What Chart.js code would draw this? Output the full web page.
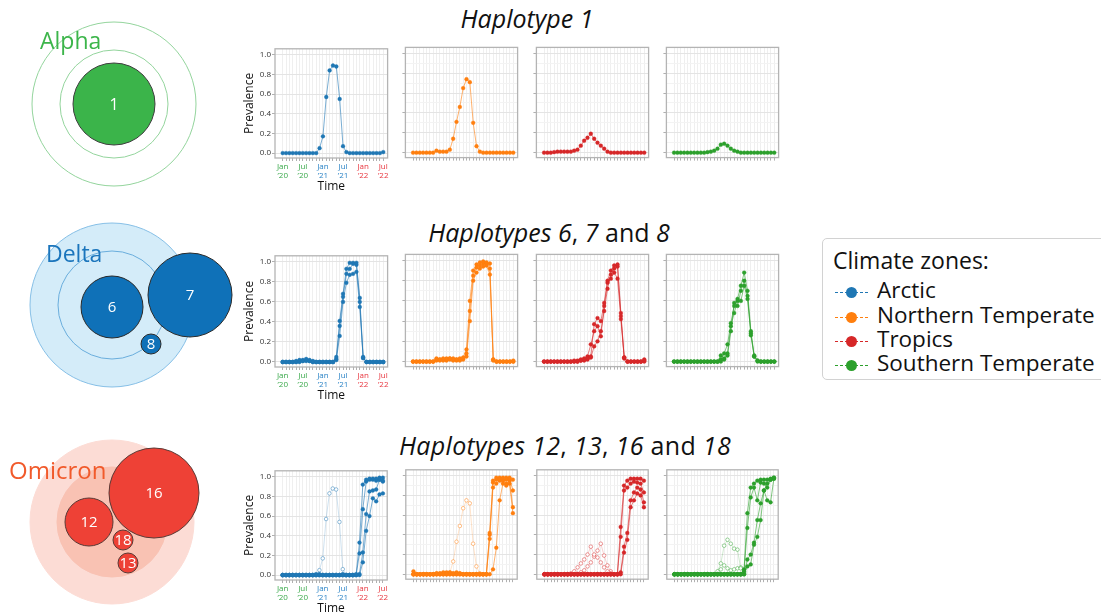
<!DOCTYPE html>
<html><head><meta charset="utf-8">
<script src="https://cdn.jsdelivr.net/npm/chart.js@4.4.0/dist/chart.umd.min.js"></script>
<style>
body{margin:0;width:1101px;height:615px;overflow:hidden;background:#fff;font-family:'Open Sans',sans-serif;position:relative}
.title{position:absolute;font-size:25px;line-height:30px;color:#111;white-space:nowrap;transform:translateX(-50%)}
.title i{font-style:italic}
#legend{position:absolute;left:822px;top:238px;width:300px;height:142px;border:1px solid #d2d2d2;border-radius:5px;box-sizing:border-box}
.lg{position:absolute;left:0;font-size:22.5px;line-height:24px;color:#111;white-space:nowrap}
.mk{position:absolute;height:0;border-top:1px dashed}
.dot{position:absolute;width:11px;height:11px;border-radius:50%}
</style></head><body>
<div class="title" style="left:527px;top:3px"><i>Haplotype 1</i></div>
<div class="title" style="left:549px;top:217px"><i>Haplotypes 6</i>, <i>7</i> and <i>8</i></div>
<div class="title" style="left:565px;top:430px;letter-spacing:0.3px"><i>Haplotypes 12</i>, <i>13</i>, <i>16</i> and <i>18</i></div>
<div id="legend"></div>
<script>
// ---------------- data ----------------
const months = [0,1,2,3,4,5,6,7,8,9,10,11,12,13,14,15,16,17,18,19,20,21,22,23,24,25,26,27,28,29,30]; // Jan 2020 .. Jul 2022
const xTickMonths = [0,6,12,18,24,30];
const xTickText = [["Jan","’20"],["Jul","’20"],["Jan","’21"],["Jul","’21"],["Jan","’22"],["Jul","’22"]];
const xTickColors = ["#3aa94b","#3aa94b","#2c84c6","#2c84c6","#e8363f","#e8363f"];
const yTicks = [0,0.1,0.2,0.3,0.4,0.5,0.6,0.7,0.8,0.9,1.0];
const zoneNames = ["Arctic","Northern Temperate","Tropics","Southern Temperate"];
const zoneColors = ["#1f77b4","#ff7f0e","#d62728","#2ca02c"];

// Alpha (haplotype 1)
const arc1 = [0,0,0,0,0,0,0,0,0,0,0,0.05,0.17,0.57,0.84,0.89,0.88,0.55,0.07,0.01,0,0,0,0,0,0,0,0,0,0,0.01];
const nt1  = [0,0,0,0,0,0,0,0.02,0.01,0.01,0.01,0.03,0.14,0.31,0.46,0.65,0.74,0.71,0.30,0.065,0.01,0,0,0,0,0,0,0,0,0,0];
const tr1  = [0,0,0,0.005,0.01,0.01,0.01,0.01,0.01,0.02,0.03,0.07,0.12,0.15,0.19,0.14,0.10,0.07,0.04,0.01,0,0,0,0,0,0,0,0,0,0,0];
const st1  = [0,0,0,0,0,0,0,0,0,0,0.005,0.01,0.02,0.04,0.08,0.09,0.07,0.04,0.02,0.01,0,0,0,0,0,0,0,0,0,0,0];

// Delta (haplotypes 6, 7, 8)
const arcD1 = [0,0,0,0,0,0.02,0.01,0.03,0.01,0,0,0,0,0,0,0,0.05,0.41,0.68,0.93,0.99,0.99,0.99,0.64,0.05,0,0,0,0,0,0];
const arcD2 = [0,0,0,0,0.01,0.01,0.02,0.02,0.02,0.01,0,0,0,0,0,0,0.03,0.36,0.65,0.88,0.93,0.98,0.97,0.60,0.04,0,0,0,0,0,0];
const arcD3 = [0,0,0,0,0,0,0.01,0.01,0.01,0,0,0,0,0,0,0,0.02,0.26,0.60,0.79,0.87,0.88,0.90,0.55,0.04,0,0,0,0,0,0];
const ntD1 = [0,0,0,0,0,0,0,0.03,0.02,0.03,0.03,0.03,0.03,0.02,0.03,0.04,0.12,0.60,0.90,0.96,0.98,0.99,0.98,0.97,0.02,0,0,0,0,0,0.01];
const ntD2 = [0,0,0,0,0,0,0,0.02,0.02,0.02,0.02,0.03,0.02,0.02,0.02,0.03,0.08,0.50,0.85,0.93,0.95,0.97,0.96,0.92,0.02,0,0,0,0,0,0];
const ntD3 = [0,0,0,0,0,0,0,0.01,0.01,0.01,0.01,0.02,0.01,0.01,0.01,0.02,0.05,0.40,0.80,0.88,0.92,0.94,0.95,0.86,0.01,0,0,0,0,0,0];
const trD1 = [0,0,0,0,0,0,0,0,0,0,0,0.01,0.02,0.03,0.05,0.37,0.43,0.40,0.58,0.80,0.90,0.95,0.96,0.48,0.04,0,0,0,0,0,0.02];
const trD2 = [0,0,0,0,0,0,0,0,0,0.01,0.01,0.02,0.03,0.05,0.17,0.30,0.35,0.25,0.55,0.78,0.82,0.88,0.82,0.42,0.03,0,0,0,0,0,0.01];
const trD3 = [0,0,0,0,0,0,0,0,0,0,0,0.01,0.01,0.02,0.04,0.15,0.20,0.30,0.50,0.72,0.86,0.92,0.94,0.45,0.04,0,0,0,0,0,0];
const stD1 = [0,0,0,0,0,0,0,0,0,0,0,0,0,0,0.02,0.08,0.17,0.38,0.55,0.62,0.75,0.88,0.70,0.30,0.06,0.01,0,0,0,0,0];
const stD2 = [0,0,0,0,0,0,0,0,0,0,0,0,0,0,0.06,0.03,0.08,0.35,0.48,0.60,0.60,0.75,0.62,0.28,0.05,0.01,0,0,0,0,0];
const stD3 = [0,0,0,0,0,0,0,0,0,0,0,0,0,0,0,0.02,0.06,0.30,0.58,0.55,0.70,0.80,0.65,0.26,0.05,0,0,0,0,0,0];

// Omicron (haplotypes 12, 13, 16, 18)
const arcO1 = [0,0,0,0,0,0,0,0,0,0,0,0,0,0,0,0,0,0,0,0,0,0,0.01,0.33,0.92,0.97,0.98,0.98,0.98,0.99,0.99];
const arcO2 = [0,0,0,0,0,0,0,0,0,0,0.01,0.01,0,0,0,0,0,0,0.01,0,0,0,0,0.22,0.67,0.95,0.97,0.97,0.96,0.97,0.96];
const arcO3 = [0,0,0,0,0,0,0,0,0,0,0,0,0,0,0,0,0,0,0,0,0,0,0,0.01,0.23,0.62,0.85,0.86,0.87,0.97,0.95];
const arcO4 = [0,0,0,0,0,0,0,0,0,0,0,0,0,0,0,0,0,0,0,0,0,0,0,0,0.13,0.45,0.60,0.78,0.75,0.82,0.83];
const ntO1 = [0.03,0,0,0,0,0,0,0.01,0.01,0.02,0.02,0.02,0.01,0.02,0.01,0,0,0,0,0,0,0,0,0.42,0.95,0.98,0.98,0.98,0.98,0.98,0.96];
const ntO2 = [0,0,0,0,0,0,0,0.01,0.01,0.01,0.01,0.01,0.01,0.01,0.01,0,0,0,0,0,0,0,0,0.40,0.93,0.96,0.97,0.96,0.96,0.97,0.85];
const ntO3 = [0,0,0,0,0,0,0,0,0,0,0,0,0,0,0,0,0,0,0,0,0,0,0,0.36,0.88,0.92,0.95,0.95,0.92,0.95,0.68];
const ntO4 = [0,0,0,0,0,0,0,0,0,0,0,0,0,0,0,0,0,0,0,0,0,0,0,0,0.05,0.27,0.75,0.92,0.90,0.92,0.62];
const trO1 = [0,0,0,0,0,0,0,0,0,0,0,0,0,0,0,0,0,0,0,0,0,0,0,0.48,0.90,0.95,0.97,0.97,0.97,0.97,0.95];
const trO2 = [0,0,0,0,0,0,0,0,0,0,0,0,0,0,0,0,0,0,0,0,0,0,0,0.38,0.85,0.88,0.92,0.94,0.93,0.92,0.83];
const trO3 = [0,0,0,0,0,0,0,0,0,0,0,0,0,0,0,0,0,0,0,0,0,0,0,0.02,0.28,0.42,0.75,0.83,0.88,0.86,0.73];
const trO4 = [0,0,0,0,0,0,0,0,0,0,0,0,0,0,0,0,0,0,0,0,0,0,0,0,0.22,0.35,0.68,0.75,0.82,0.80,0.68];
const stO1 = [0,0,0,0,0,0,0,0,0,0,0,0,0,0,0,0,0,0,0,0,0,0.05,0.62,0.88,0.92,0.95,0.96,0.96,0.96,0.97,0.98];
const stO2 = [0,0,0,0,0,0,0,0,0,0,0,0,0,0,0,0,0,0,0,0,0,0.03,0.47,0.78,0.88,0.75,0.93,0.92,0.88,0.96,0.97];
const stO3 = [0,0,0,0,0,0,0,0,0,0,0,0,0,0,0,0,0,0,0,0,0,0,0.15,0.20,0.32,0.55,0.72,0.85,0.75,0.73,0.97];
const stO4 = [0,0,0,0,0,0,0,0,0,0,0,0,0,0,0,0,0,0,0,0,0,0,0.08,0.10,0.30,0.38,0.55,0.85,0.92,0.96,0.98];
// earlier-wave curves shown faded (hollow markers) in the Omicron row
const arcG  = [0,0,0,0,0,0,0,0,0,0,0,0.05,0.17,0.57,0.83,0.88,0.87,0.54,0.06,0,0,0,null,null,null,null,null,null,null,null,null];
const ntG   = [0,0,0,0,0,0,0,0,0,0,0,0.02,0.13,0.33,0.49,0.67,0.75,0.72,0.31,0.08,0.01,0,null,null,null,null,null,null,null,null,null];
const trG1  = [0,0,0,0,0,0,0,0,0.01,0.03,0.07,0.11,0.15,0.20,0.28,0.20,0.17,0.12,0.07,0.03,0.01,0,null,null,null,null,null,null,null,null,null];
const trG2  = [0,0,0,0,0,0,0,0,0,0,0,0.02,0.04,0.08,0.12,0.18,0.24,0.31,0.19,0.09,0.03,0,null,null,null,null,null,null,null,null,null];
const stG1  = [0,0,0,0,0,0,0,0,0,0,0,0,0,0.03,0.11,0.29,0.35,0.31,0.26,0.25,0.06,0.01,null,null,null,null,null,null,null,null,null];
const stG2  = [0,0,0,0,0,0,0,0,0,0,0,0,0,0.01,0.05,0.09,0.06,0.04,0.05,0.06,0.07,0.02,null,null,null,null,null,null,null,null,null];

const panelSeries = [
  [[arc1],[nt1],[tr1],[st1]],
  [[arcD1,arcD2,arcD3],[ntD1,ntD2,ntD3],[trD1,trD2,trD3],[stD1,stD2,stD3]],
  [[arcO1,arcO2,arcO3,arcO4],[ntO1,ntO2,ntO3,ntO4],[trO1,trO2,trO3,trO4],[stO1,stO2,stO3,stO4]]
];
const panelGhosts = [
  [[],[],[],[]],
  [[],[],[],[]],
  [[arcG],[ntG],[trG1,trG2],[stG1,stG2]]
];

// left: variant clusters (haplotype bubbles)
const variantNames = ["Alpha","Delta","Omicron"];
const alphaHaps = ["1"];   const alphaR = [41];
const deltaHaps = ["6","7","8"]; const deltaR = [31,42,10];
const omicronHaps = ["12","16","18","13"]; const omicronR = [24,45,10,10];

// ---------------- layout / style ----------------
const FONT = "'Open Sans', sans-serif";
const colL = [275,405,536,666], plotW = 115;
const rowT = [45,252,467], plotH = [113,115,113];

function hexA(h,a){const n=parseInt(h.slice(1),16);return `rgba(${n>>16&255},${n>>8&255},${n&255},${a})`;}
const frame = {id:'frame', afterDatasetsDraw(ch){const a=ch.chartArea,ctx=ch.ctx;ctx.save();ctx.strokeStyle='#b4b4b4';ctx.lineWidth=1.3;ctx.strokeRect(a.left,a.top,a.right-a.left,a.bottom-a.top);ctx.restore();}};
const isMajor = v => Math.round(v*10)%2===0;

function makeChart(r,c){
  const first = c===0;
  const AW = first?40:4, AH = first?36:4, PT=2, PR=2;
  const W = plotW, H = plotH[r];
  const cv = document.createElement('canvas');
  cv.width = AW+W+PR; cv.height = PT+H+AH;
  cv.style.cssText = `position:absolute;left:${colL[c]-AW}px;top:${rowT[r]-PT}px;width:${cv.width}px;height:${cv.height}px`;
  document.body.appendChild(cv);
  const col = zoneColors[c];
  const ds = [];
  panelSeries[r][c].forEach(s=>ds.push({data:s.map((v,i)=>({x:months[i],y:v})),borderColor:hexA(col,0.6),borderWidth:1,
    pointRadius:1.9,pointBackgroundColor:col,pointBorderColor:col,pointBorderWidth:0.4,tension:0}));
  panelGhosts[r][c].forEach(s=>ds.push({data:s.map((v,i)=>({x:months[i],y:v})),borderColor:hexA(col,0.28),borderWidth:0.8,
    pointRadius:1.8,pointBackgroundColor:'#fff',pointBorderColor:hexA(col,0.6),pointBorderWidth:0.8,tension:0}));
  new Chart(cv,{type:'line',data:{datasets:ds},plugins:[frame],options:{
    responsive:false,animation:false,devicePixelRatio:1,events:[],
    layout:{padding:{top:PT,right:PR,left:0,bottom:0}},
    plugins:{legend:{display:false},tooltip:{enabled:false}},
    scales:{
      x:{type:'linear',min:-2.3,max:31.3,
        afterFit(s){s.height=AH;},
        afterBuildTicks(s){s.ticks=months.map(v=>({value:v}));},
        grid:{color:'#efefef',lineWidth:1,tickLength:3,tickColor:'#b0b0b0'},
        border:{display:false},
        ticks:{display:first,autoSkip:false,maxRotation:0,minRotation:0,padding:1,
          font:{family:FONT,size:8,lineHeight:1.15},
          color:ctx=>{const k=xTickMonths.indexOf(ctx.tick.value);return k<0?'#000':xTickColors[k];},
          callback:v=>{const k=xTickMonths.indexOf(v);return k<0?'':xTickText[k];}},
        title:{display:first,text:'Time',color:'#111',font:{family:FONT,size:12},padding:{top:0,bottom:0}}},
      y:{type:'linear',min:-0.05,max:1.06,
        afterFit(s){s.width=AW;},
        afterBuildTicks(s){s.ticks=yTicks.map(v=>({value:v}));},
        grid:{color:ctx=>isMajor(ctx.tick.value)?'#e4e4e4':'#f3f3f3',lineWidth:1,tickLength:3,
          tickColor:ctx=>isMajor(ctx.tick.value)?'#b0b0b0':'rgba(0,0,0,0)'},
        border:{display:false},
        ticks:{display:first,padding:1,color:'#333',font:{family:FONT,size:8},
          callback:v=>isMajor(v)?v.toFixed(1):''},
        title:{display:first,text:'Prevalence',color:'#111',font:{family:FONT,size:12},padding:{top:7,bottom:0}}}
    }}});
}
for(let r=0;r<3;r++)for(let c=0;c<4;c++)makeChart(r,c);

// ---- bubble diagrams ----
(function(){
  const PAD = 100; // larger than the largest bubble overflow, so the chart area is exactly the 240x615 region
  const cv=document.createElement('canvas');cv.width=240+2*PAD;cv.height=615+2*PAD;
  cv.style.cssText=`position:absolute;left:${-PAD}px;top:${-PAD}px;width:${cv.width}px;height:${cv.height}px`;
  document.body.insertBefore(cv,document.body.firstChild);
  const pts=[], bg=[], bc=[], bw=[], lab=[];
  function add(x,y,r,fill,stroke,w,l){pts.push({x,y,r});bg.push(fill);bc.push(stroke);bw.push(w);lab.push(l||'');}
  // Alpha
  add(114,104,82,'rgba(0,0,0,0)','#93d49c',1);
  add(114,104,54,'rgba(0,0,0,0)','#93d49c',1);
  add(114,104,alphaR[0],'#3bb44a','#3d3d3d',1,alphaHaps[0]);
  // Delta
  add(112,305,82,'#d4ecf9','#86bfe6',1);
  add(112,305,54,'rgba(0,0,0,0)','#6aaedd',1);
  add(112,307,deltaR[0],'#0f71b8','#2a2a2a',1,deltaHaps[0]);
  add(190,295,deltaR[1],'#0f71b8','#2a2a2a',1,deltaHaps[1]);
  add(151,344,deltaR[2],'#0f71b8','#2a2a2a',1,deltaHaps[2]);
  // Omicron
  add(112,522,82,'#fcdcd5','#fcdcd5',1);
  add(112,522,55,'#f9c2b3','#f9c2b3',1);
  add(89,522,omicronR[0],'#ee4136','#5a3a36',1,omicronHaps[0]);
  add(154,493,omicronR[1],'#ee4136','#5a3a36',1,omicronHaps[1]);
  add(123,540,omicronR[2],'#ee4136','#5a3a36',1,omicronHaps[2]);
  add(128,563,omicronR[3],'#ee4136','#5a3a36',1,omicronHaps[3]);
  const names={id:'names',afterDatasetsDraw(ch){
    const ctx=ch.ctx, m=ch.getDatasetMeta(0);
    ctx.save();ctx.fillStyle='#fff';ctx.textAlign='center';ctx.textBaseline='middle';
    m.data.forEach((el,i)=>{if(lab[i]){ctx.font=`${lab[i]==='1'?16:15}px ${FONT}`;ctx.fillText(lab[i],el.x,el.y+1);}});
    ctx.textAlign='left';ctx.textBaseline='alphabetic';
    const xs=ch.scales.x, ys=ch.scales.y;
    ctx.font=`23px ${FONT}`;ctx.fillStyle='#3cb54a';ctx.fillText(variantNames[0],xs.getPixelForValue(40),ys.getPixelForValue(48.5));
    ctx.fillStyle='#1b75bc';ctx.fillText(variantNames[1],xs.getPixelForValue(46),ys.getPixelForValue(262));
    ctx.font=`24px ${FONT}`;ctx.fillStyle='#f15a2b';ctx.fillText(variantNames[2],xs.getPixelForValue(9),ys.getPixelForValue(478.5));
    ctx.restore();}};
  new Chart(cv,{type:'bubble',data:{datasets:[{data:pts,backgroundColor:bg,borderColor:bc,borderWidth:bw,clip:false}]},plugins:[names],
    options:{responsive:false,animation:false,devicePixelRatio:1,events:[],layout:{padding:PAD},
      plugins:{legend:{display:false},tooltip:{enabled:false}},
      scales:{x:{type:'linear',min:0,max:240,display:false},y:{type:'linear',min:0,max:615,reverse:true,display:false}}}});
})();

// ---- legend ----
(function(){
  const lg=document.getElementById('legend');
  const t=document.createElement('div');t.className='lg';t.style.left='10px';t.style.top='9px';t.style.fontSize='23px';t.textContent='Climate zones:';lg.appendChild(t);
  const cy=[53,78,102,126];
  zoneNames.forEach((n,i)=>{
    const m=document.createElement('div');m.className='mk';m.style.left='12px';m.style.top=cy[i]+'px';m.style.width='33px';m.style.borderColor=zoneColors[i];lg.appendChild(m);
    const d=document.createElement('div');d.className='dot';d.style.left='22.5px';d.style.top=(cy[i]-5)+'px';d.style.background=zoneColors[i];lg.appendChild(d);
    const s=document.createElement('div');s.className='lg';s.style.left='54px';s.style.top=(cy[i]-14)+'px';s.textContent=n;lg.appendChild(s);
  });
})();
</script>
</body></html>
